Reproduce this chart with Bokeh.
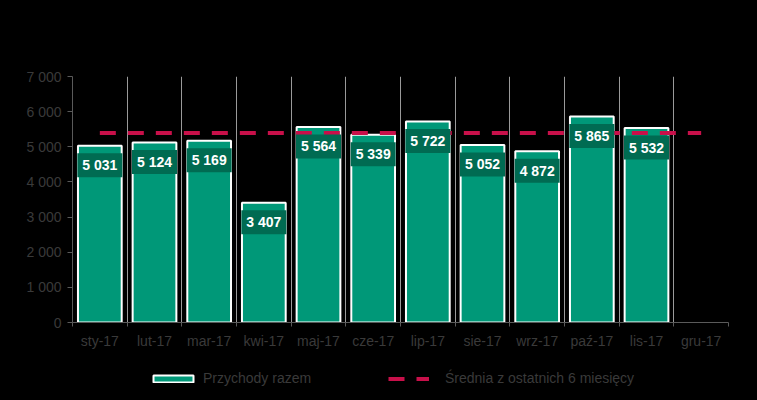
from bokeh.plotting import figure
from bokeh.layouts import column
from bokeh.models import Range1d, FixedTicker, Legend, LegendItem, ColumnDataSource
from bokeh.core.properties import value
from bokeh.embed import file_html
from bokeh.resources import INLINE

months = ["sty-17", "lut-17", "mar-17", "kwi-17", "maj-17", "cze-17",
          "lip-17", "sie-17", "wrz-17", "paź-17", "lis-17", "gru-17"]
revenue = [5031, 5124, 5169, 3407, 5564, 5339, 5722, 5052, 4872, 5865, 5532]
revenue_labels = ["5 031", "5 124", "5 169", "3 407", "5 564", "5 339",
                  "5 722", "5 052", "4 872", "5 865", "5 532"]
avg6 = [5390, 5390, 5390, 5390, 5390, 5390, 5390, 5390, 5390, 5390, 5390, 5390]
y_ticks = [0, 1000, 2000, 3000, 4000, 5000, 6000, 7000]
y_tick_labels = ["0", "1 000", "2 000", "3 000", "4 000", "5 000", "6 000", "7 000"]
legend_labels = ["Przychody razem", "Średnia z ostatnich 6 miesięcy"]

FONT = "Liberation Sans"
TXT = "#3a3a3a"
BAR = "#009878"
BOX = "#006b52"
RED = "#c8104a"
GRID = "#9a9a9a"
AXIS = "#5a5a5a"
BLACK = {"background-color": "black"}

centers = [i + 0.5 for i in range(len(months))]
bounds = [i for i in range(len(months) + 1)]

p = figure(width=757, height=357, output_backend="svg", toolbar_location=None,
           x_range=Range1d(0, len(months)), y_range=Range1d(0, 7000),
           min_border_left=72, min_border_right=29, min_border_top=76, min_border_bottom=35,
           background_fill_color="black", border_fill_color="black", outline_line_color=None,
           styles=BLACK)

src = ColumnDataSource(dict(x=centers[:len(revenue)], y=revenue, lab=revenue_labels))
bar_style = dict(fill_color=BAR, line_color="white", line_width=2)
line_style = dict(line_color=RED, line_width=4, line_dash="16 12")
p.vbar(x="x", top="y", width=0.8, source=src, **bar_style)
p.line(x=centers, y=avg6, **line_style)
p.text(x="x", y="y", text="lab", source=src, y_offset=19.5, text_align="center", text_baseline="middle",
       text_color="white", text_font=value(FONT), text_font_size="14px", text_font_style="bold",
       background_fill_color=BOX, padding=(5, 4))

# axes
p.xaxis.ticker = FixedTicker(ticks=centers, minor_ticks=bounds)
p.xaxis.major_label_overrides = {c: m for c, m in zip(centers, months)}
p.xaxis.major_tick_out = 0
p.xaxis.major_tick_in = 0
p.xaxis.minor_tick_out = 4
p.xaxis.minor_tick_in = 0
p.xaxis.minor_tick_line_color = AXIS
p.xaxis.axis_line_color = AXIS
p.xaxis.major_label_text_color = TXT
p.xaxis.major_label_text_font = FONT
p.xaxis.major_label_text_font_size = "14px"
p.xaxis.major_label_standoff = 6

p.yaxis.ticker = FixedTicker(ticks=y_ticks)
p.yaxis.major_label_overrides = {t: l for t, l in zip(y_ticks, y_tick_labels)}
p.yaxis.minor_tick_line_color = None
p.yaxis.major_tick_out = 5
p.yaxis.major_tick_in = 0
p.yaxis.major_tick_line_color = AXIS
p.yaxis.axis_line_color = AXIS
p.yaxis.major_label_text_color = TXT
p.yaxis.major_label_text_font = FONT
p.yaxis.major_label_text_font_size = "14px"
p.yaxis.major_label_standoff = 6

p.ygrid.grid_line_color = None
p.xgrid.ticker = FixedTicker(ticks=bounds[1:])
p.xgrid.grid_line_color = GRID
p.xgrid.grid_line_width = 1

# legend strip (its frame is aligned with the chart's frame, left edge at 72 px)
q = figure(width=757, height=43, output_backend="svg", toolbar_location=None,
           x_range=Range1d(0, 1), y_range=Range1d(0, 1),
           x_axis_type=None, y_axis_type=None,
           min_border_left=72, min_border_right=29, min_border_top=0, min_border_bottom=0,
           background_fill_color="black", border_fill_color="black", outline_line_color=None,
           styles=BLACK)
q.grid.visible = False
nan = float("nan")
rb = q.vbar(x=[nan], top=[nan], width=0.8, **bar_style)
rl = q.line(x=[nan, nan], y=[nan, nan], **line_style)

common = dict(padding=0, margin=0, border_line_color=None, background_fill_alpha=0,
              label_text_color=TXT, label_text_font=FONT, label_text_font_size="14px",
              glyph_height=9)
leg1 = Legend(items=[LegendItem(label=legend_labels[0], renderers=[rb])],
              location=(76, 14), glyph_width=50, label_standoff=5, **common)
leg2 = Legend(items=[LegendItem(label=legend_labels[1], renderers=[rl])],
              location=(316, 14), glyph_width=41, label_standoff=16, **common)
q.add_layout(leg1, "center")
q.add_layout(leg2, "center")

layout = column(p, q, spacing=0, styles=BLACK)
open("out.html", "w").write(file_html(layout, INLINE))
